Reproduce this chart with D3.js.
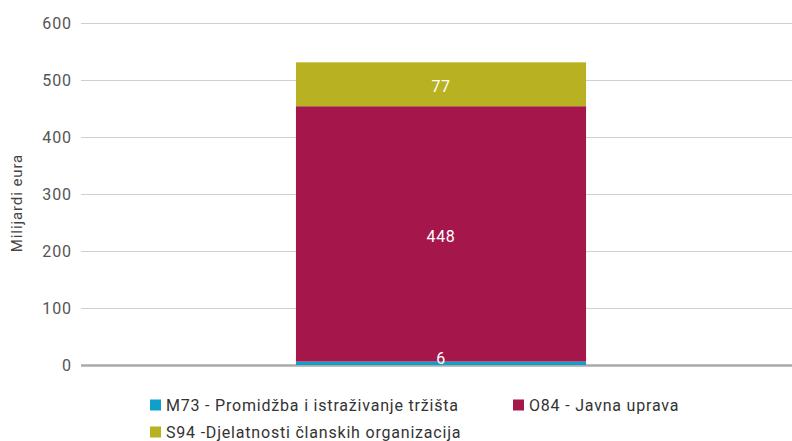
<!DOCTYPE html>
<html>
<head>
<meta charset="utf-8">
<script src="https://cdn.jsdelivr.net/npm/d3@7"></script>
<style>
  body { margin: 0; background: #fff; }
  text { font-family: Roboto, "DejaVu Sans", sans-serif; }
</style>
</head>
<body>
<div id="chart"></div>
<script>
const categories = ['2019'];
const seriesNames = ['M73 - Promidžba i istraživanje tržišta', 'O84 - Javna uprava', 'S94 -Djelatnosti članskih organizacija'];
const seriesKeys = ['m73', 'o84', 's94'];
const m73 = [6];
const o84 = [448];
const s94 = [77];
const yTicks = [0, 100, 200, 300, 400, 500, 600];
const colors = ['#0f9fcb', '#a5164a', '#b8b121'];

const width = 792, height = 441;
const rows = categories.map((c, i) => ({ cat: c, m73: m73[i], o84: o84[i], s94: s94[i] }));

const svg = d3.select('#chart').append('svg')
  .attr('width', width)
  .attr('height', height);

const x = d3.scaleBand()
  .domain(categories)
  .range([81, 801])
  .paddingInner(0)
  .paddingOuter(0.741);

const y = d3.scaleLinear()
  .domain([0, 600])
  .range([365, 23]);

// gridlines + tick labels
const yAxis = svg.append('g')
  .attr('transform', 'translate(81,0)')
  .call(d3.axisLeft(y).tickValues(yTicks).tickSize(-711).tickPadding(9));
yAxis.select('.domain').remove();
yAxis.selectAll('.tick line').attr('stroke', '#d0d0d0').attr('stroke-width', 1);
yAxis.selectAll('.tick text').attr('fill', '#555').attr('font-size', 16)
  .attr('letter-spacing', 0.9).attr('font-family', 'Roboto, sans-serif');
yAxis.selectAll('.tick').filter(d => d === 0).select('line')
  .attr('stroke', '#aaa').attr('stroke-width', 2.5);

svg.append('text')
  .attr('transform', `translate(22,${203}) rotate(-90)`)
  .attr('text-anchor', 'middle')
  .attr('fill', '#444')
  .attr('font-size', 15)
  .attr('letter-spacing', 0.9)
  .text('Milijardi eura');

const stack = d3.stack().keys(seriesKeys)(rows);

svg.append('g').selectAll('g')
  .data(stack)
  .join('g')
  .attr('fill', (d, i) => colors[i])
  .selectAll('rect')
  .data(d => d)
  .join('rect')
  .attr('x', d => x(d.data.cat))
  .attr('width', x.bandwidth())
  .attr('y', d => y(d[1]))
  .attr('height', d => y(d[0]) - y(d[1]));

const labels = stack.flatMap(s => s.map(v => ({ v, key: s.key })));
svg.append('g').selectAll('text')
  .data(labels)
  .join('text')
  .attr('x', d => x(d.v.data.cat) + x.bandwidth() / 2)
  .attr('y', d => {
    const mid = (y(d.v[0]) + y(d.v[1])) / 2;
    return (y(d.v[0]) - y(d.v[1]) < 20) ? mid - 5 : mid + 2;
  })
  .attr('dy', '0.35em')
  .attr('text-anchor', 'middle')
  .attr('fill', '#fff')
  .attr('font-size', 16)
  .attr('letter-spacing', 0.6)
  .text(d => d.v.data[d.key]);

// legend
const legendPos = [[150, 405], [513, 405], [150, 432]];
const legend = svg.append('g').selectAll('g')
  .data(seriesNames)
  .join('g')
  .attr('transform', (d, i) => `translate(${legendPos[i][0]},${legendPos[i][1]})`);
legend.append('rect')
  .attr('x', 0).attr('y', -5.5)
  .attr('width', 11).attr('height', 11)
  .attr('fill', (d, i) => colors[i]);
legend.append('text')
  .attr('x', 16)
  .attr('dy', '0.35em')
  .attr('fill', '#333')
  .attr('font-size', 16)
  .attr('letter-spacing', 0.8)
  .text(d => d);
</script>
</body>
</html>
